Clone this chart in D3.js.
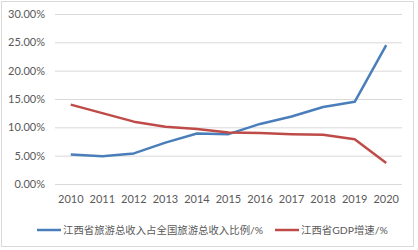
<!DOCTYPE html>
<html>
<head>
<meta charset="utf-8">
<script src="https://cdn.jsdelivr.net/npm/d3@7"></script>
<style>
  body { margin: 0; background: #fff; }
  text { font-family: Lato, "Noto Sans CJK SC", sans-serif; }
</style>
</head>
<body>
<script>
// chart data
const years = ["2010","2011","2012","2013","2014","2015","2016","2017","2018","2019","2020"];
const tourismShare = [5.2, 4.9, 5.4, 7.3, 8.9, 8.8, 10.6, 11.9, 13.6, 14.5, 24.5];
const gdpGrowth = [14.0, 12.5, 11.0, 10.1, 9.7, 9.1, 9.0, 8.8, 8.7, 7.9, 3.7];
const yTicks = [0, 5, 10, 15, 20, 25, 30];
const seriesNames = ["江西省旅游总收入占全国旅游总收入比例/%", "江西省GDP增速/%"];
const colours = ["#4A7EBB", "#BE4B48"];

const W = 418, H = 250;
const plotLeft = 55, plotRight = 402, plotTop = 14, plotBottom = 184;

const svg = d3.select("body").append("svg")
    .attr("width", W)
    .attr("height", H);

// chart border
svg.append("rect")
    .attr("x", 1.5).attr("y", 1.5)
    .attr("width", 412).attr("height", 245)
    .attr("fill", "#fff")
    .attr("stroke", "#D9D9D9");

const x = d3.scaleBand().domain(years).range([plotLeft, plotRight]);
const y = d3.scaleLinear().domain([0, 30]).range([plotBottom, plotTop]);

// gridlines + y labels
const yAxis = svg.append("g")
    .attr("transform", `translate(${plotLeft},0)`)
    .call(d3.axisLeft(y).tickValues(yTicks).tickSize(-(plotRight - plotLeft))
        .tickFormat(d => d.toFixed(2) + "%"));
yAxis.select(".domain").remove();
yAxis.selectAll(".tick line").attr("stroke", "#D9D9D9");
yAxis.selectAll(".tick text")
    .attr("x", -10)
    .attr("fill", "#595959")
    .style("font-size", "11px");

// x labels
const xAxis = svg.append("g")
    .attr("transform", `translate(0,${plotBottom})`)
    .call(d3.axisBottom(x).tickSize(0));
xAxis.select(".domain").remove();
xAxis.selectAll(".tick text")
    .attr("dy", "1.45em")
    .attr("fill", "#595959")
    .style("font-size", "11px");

// lines
const line = d3.line()
    .x((d, i) => x(years[i]) + x.bandwidth() / 2)
    .y(d => y(d));

[tourismShare, gdpGrowth].forEach((s, i) => {
    svg.append("path")
        .datum(s)
        .attr("fill", "none")
        .attr("stroke", colours[i])
        .attr("stroke-width", 2.5)
        .attr("stroke-linejoin", "round")
        .attr("d", line);
});

// legend
const legendX = [37, 275];
seriesNames.forEach((name, i) => {
    const g = svg.append("g").attr("transform", `translate(${legendX[i]},230)`);
    g.append("line")
        .attr("x1", 0).attr("x2", 24)
        .attr("stroke", colours[i])
        .attr("stroke-width", 2.5);
    g.append("text")
        .attr("x", 26).attr("dy", "0.35em")
        .attr("fill", "#595959")
        .style("font-size", "10.4px")
        .text(name);
});
</script>
</body>
</html>
